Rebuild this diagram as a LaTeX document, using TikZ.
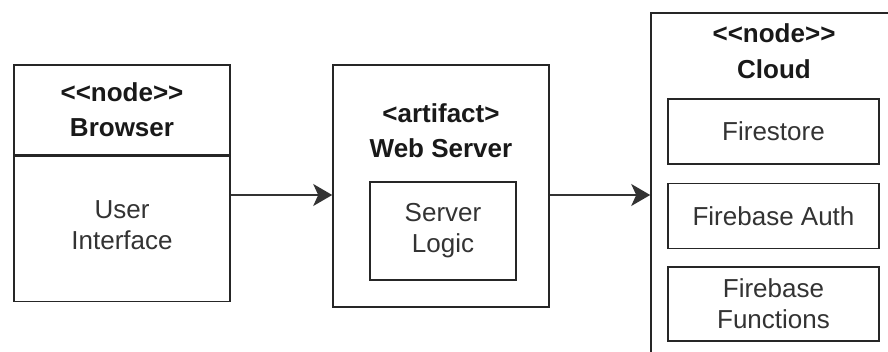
\documentclass[tikz,border=0pt]{standalone}
\usepackage{fontspec}
\setmainfont{Liberation Sans}
\usetikzlibrary{
  arrows.meta
  , positioning
}

\begin{document}
\begin{tikzpicture}[x=1pt, y=-1pt,
    box/.style={draw=black!85, line width=1.6pt, rectangle, inner sep=0pt,
      align=center, font=\fontsize{26}{31}\selectfont, text=black!80},
    head/.style={align=center, font=\fontsize{26}{35}\selectfont\bfseries,
      text=black!90, inner sep=0pt},
    flow/.style={line width=1.4pt, draw=black!80,
      -{Stealth[length=19pt, width=22pt, inset=5pt]}}]
      \clip (0,0) rectangle (888,352);
      \fill [white] (0,0) rectangle (888,352);

      % Browser
      \node [box, minimum width=216pt, minimum height=90pt] (browserhead) at (122,110) {};
      \node [head] (browsertitle) at (122,110) {{<}{<}node{>}{>}\\Browser};
      \node [box, minimum width=216pt, minimum height=145pt,
        below=0pt of browserhead] (browserbody) {};
      \node [box, draw=none] (uitext) at (122,225) {User\\Interface};

      % Web server
      \node [box, minimum width=216pt, minimum height=242pt] (webserver) at (441,186) {};
      \node [head] (webtitle) at (441,131) {{<}artifact{>}\\Web Server};
      \node [box, minimum width=146pt, minimum height=98pt] (logic) at (443,231) {Server\\Logic};

      % Cloud
      \node [box, minimum width=246pt, minimum height=360pt] (cloud) at (774,193) {};
      \node [head] (cloudnode) at (774,33) {{<}{<}node{>}{>}};
      \node [head] (cloudtitle) at (774,69) {Cloud};
      \node [box, minimum width=211pt, minimum height=65pt] (firestore) at (773.5,131.5) {Firestore};
      \node [box, minimum width=211pt, minimum height=65pt,
        below=18pt of firestore] (auth) {Firebase Auth};
      \node [box, minimum width=211pt, minimum height=74pt,
        below=17pt of auth] (functions) {Firebase\\Functions};

      \coordinate (mid) at (0,195);
      \draw [flow] (browserbody.east |- mid) -- (webserver.west |- mid);
      \draw [flow] (webserver.east |- mid) -- (cloud.west |- mid);
    \end{tikzpicture}
\end{document}
